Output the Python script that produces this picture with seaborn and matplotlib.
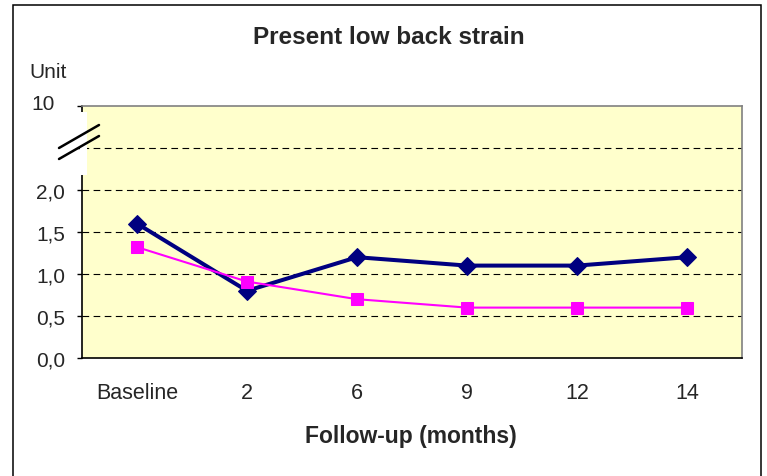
import numpy as np
import matplotlib
matplotlib.use("Agg")
import matplotlib.pyplot as plt
from matplotlib.patches import Rectangle
from matplotlib.lines import Line2D
import seaborn as sns

# Follow-up time points and mean strain scores for the two groups
categories = ["Baseline", "2", "6", "9", "12", "14"]
group_navy = [1.6, 0.8, 1.2, 1.1, 1.1, 1.2]
group_pink = [1.32, 0.91, 0.7, 0.6, 0.6, 0.6]

# Broken value axis: the top slot stands for 10
y_ticks = [0.0, 0.5, 1.0, 1.5, 2.0, 2.5, 3.0]
y_tick_labels = ["0,0", "0,5", "1,0", "1,5", "2,0", "", ""]
top_label = "10"

sns.set_style("white")
plt.rcParams["font.family"] = ["Liberation Sans", "DejaVu Sans"]

W, H = 767, 477
fig = plt.figure(figsize=(W / 100, H / 100), dpi=100)
fig.patch.set_facecolor("white")

# outer chart frame
fig.patches.append(Rectangle((12.5 / W, -0.05), 748 / W, 1.05 - 5.5 / H,
                             transform=fig.transFigure, fill=False,
                             edgecolor="black", linewidth=1.1, zorder=0))

ax = fig.add_axes([82 / W, 1 - 359 / H, 660 / W, 252 / H])
ax.set_facecolor("#FFFFCC")

x = np.arange(len(categories))

# dashed horizontal gridlines
for yv in y_ticks[1:-1]:
    ax.axhline(yv, color="black", linewidth=0.8, linestyle=(0, (6, 4)), zorder=1)

sns.lineplot(x=x, y=group_navy, ax=ax, color="#000080", linewidth=2.9,
             marker="D", markersize=9.5, markeredgecolor="#000080",
             markerfacecolor="#000080", zorder=3)
sns.lineplot(x=x, y=group_pink, ax=ax, color="#FF00FF", linewidth=1.5,
             marker="s", markersize=8.5, markeredgecolor="#FF00FF",
             markerfacecolor="#FF00FF", zorder=4)

ax.set_xlim(-0.5, len(categories) - 0.5)
ax.set_ylim(0, 3)
ax.set_xticks(x)
ax.set_xticklabels(categories)
ax.set_yticks(y_ticks)
ax.set_yticklabels(y_tick_labels)
ax.tick_params(axis="y", length=3.6, width=1.0, direction="out", color="black",
               labelsize=15, pad=8.5, left=True)
ax.tick_params(axis="x", length=0, labelsize=15.5, pad=17)
ax.grid(False)

for side in ("left", "bottom"):
    ax.spines[side].set_color("black")
    ax.spines[side].set_linewidth(1.2)
for side in ("top", "right"):
    ax.spines[side].set_color("#808080")
    ax.spines[side].set_linewidth(1.2)
    ax.spines[side].set_visible(True)

# gap in the value axis
ax.add_patch(Rectangle((-2.5 / 660, (359 - 176) / 252), 7.5 / 660, 63 / 252,
                       transform=ax.transAxes, facecolor="white",
                       edgecolor="none", clip_on=False, zorder=6))
for (x0, y0, x1, y1) in [(59, 149, 99, 126), (59, 160, 99, 137)]:
    fig.add_artist(Line2D([x0 / W, x1 / W], [1 - y0 / H, 1 - y1 / H],
                          transform=fig.transFigure, color="black",
                          linewidth=1.8, zorder=7))

fig.text(43 / W, 1 - 104 / H, top_label, ha="center", va="center", fontsize=15)
fig.text(389 / W, 1 - 38 / H, "Present low back strain", ha="center",
         va="center", fontsize=17.5, fontweight="bold")
fig.text(411 / W, 1 - 437 / H, "Follow-up (months)", ha="center",
         va="center", fontsize=16.5, fontweight="bold")
fig.text(48 / W, 1 - 72 / H, "Unit", ha="center", va="center", fontsize=15)

fig.savefig("out.png", dpi=100)
